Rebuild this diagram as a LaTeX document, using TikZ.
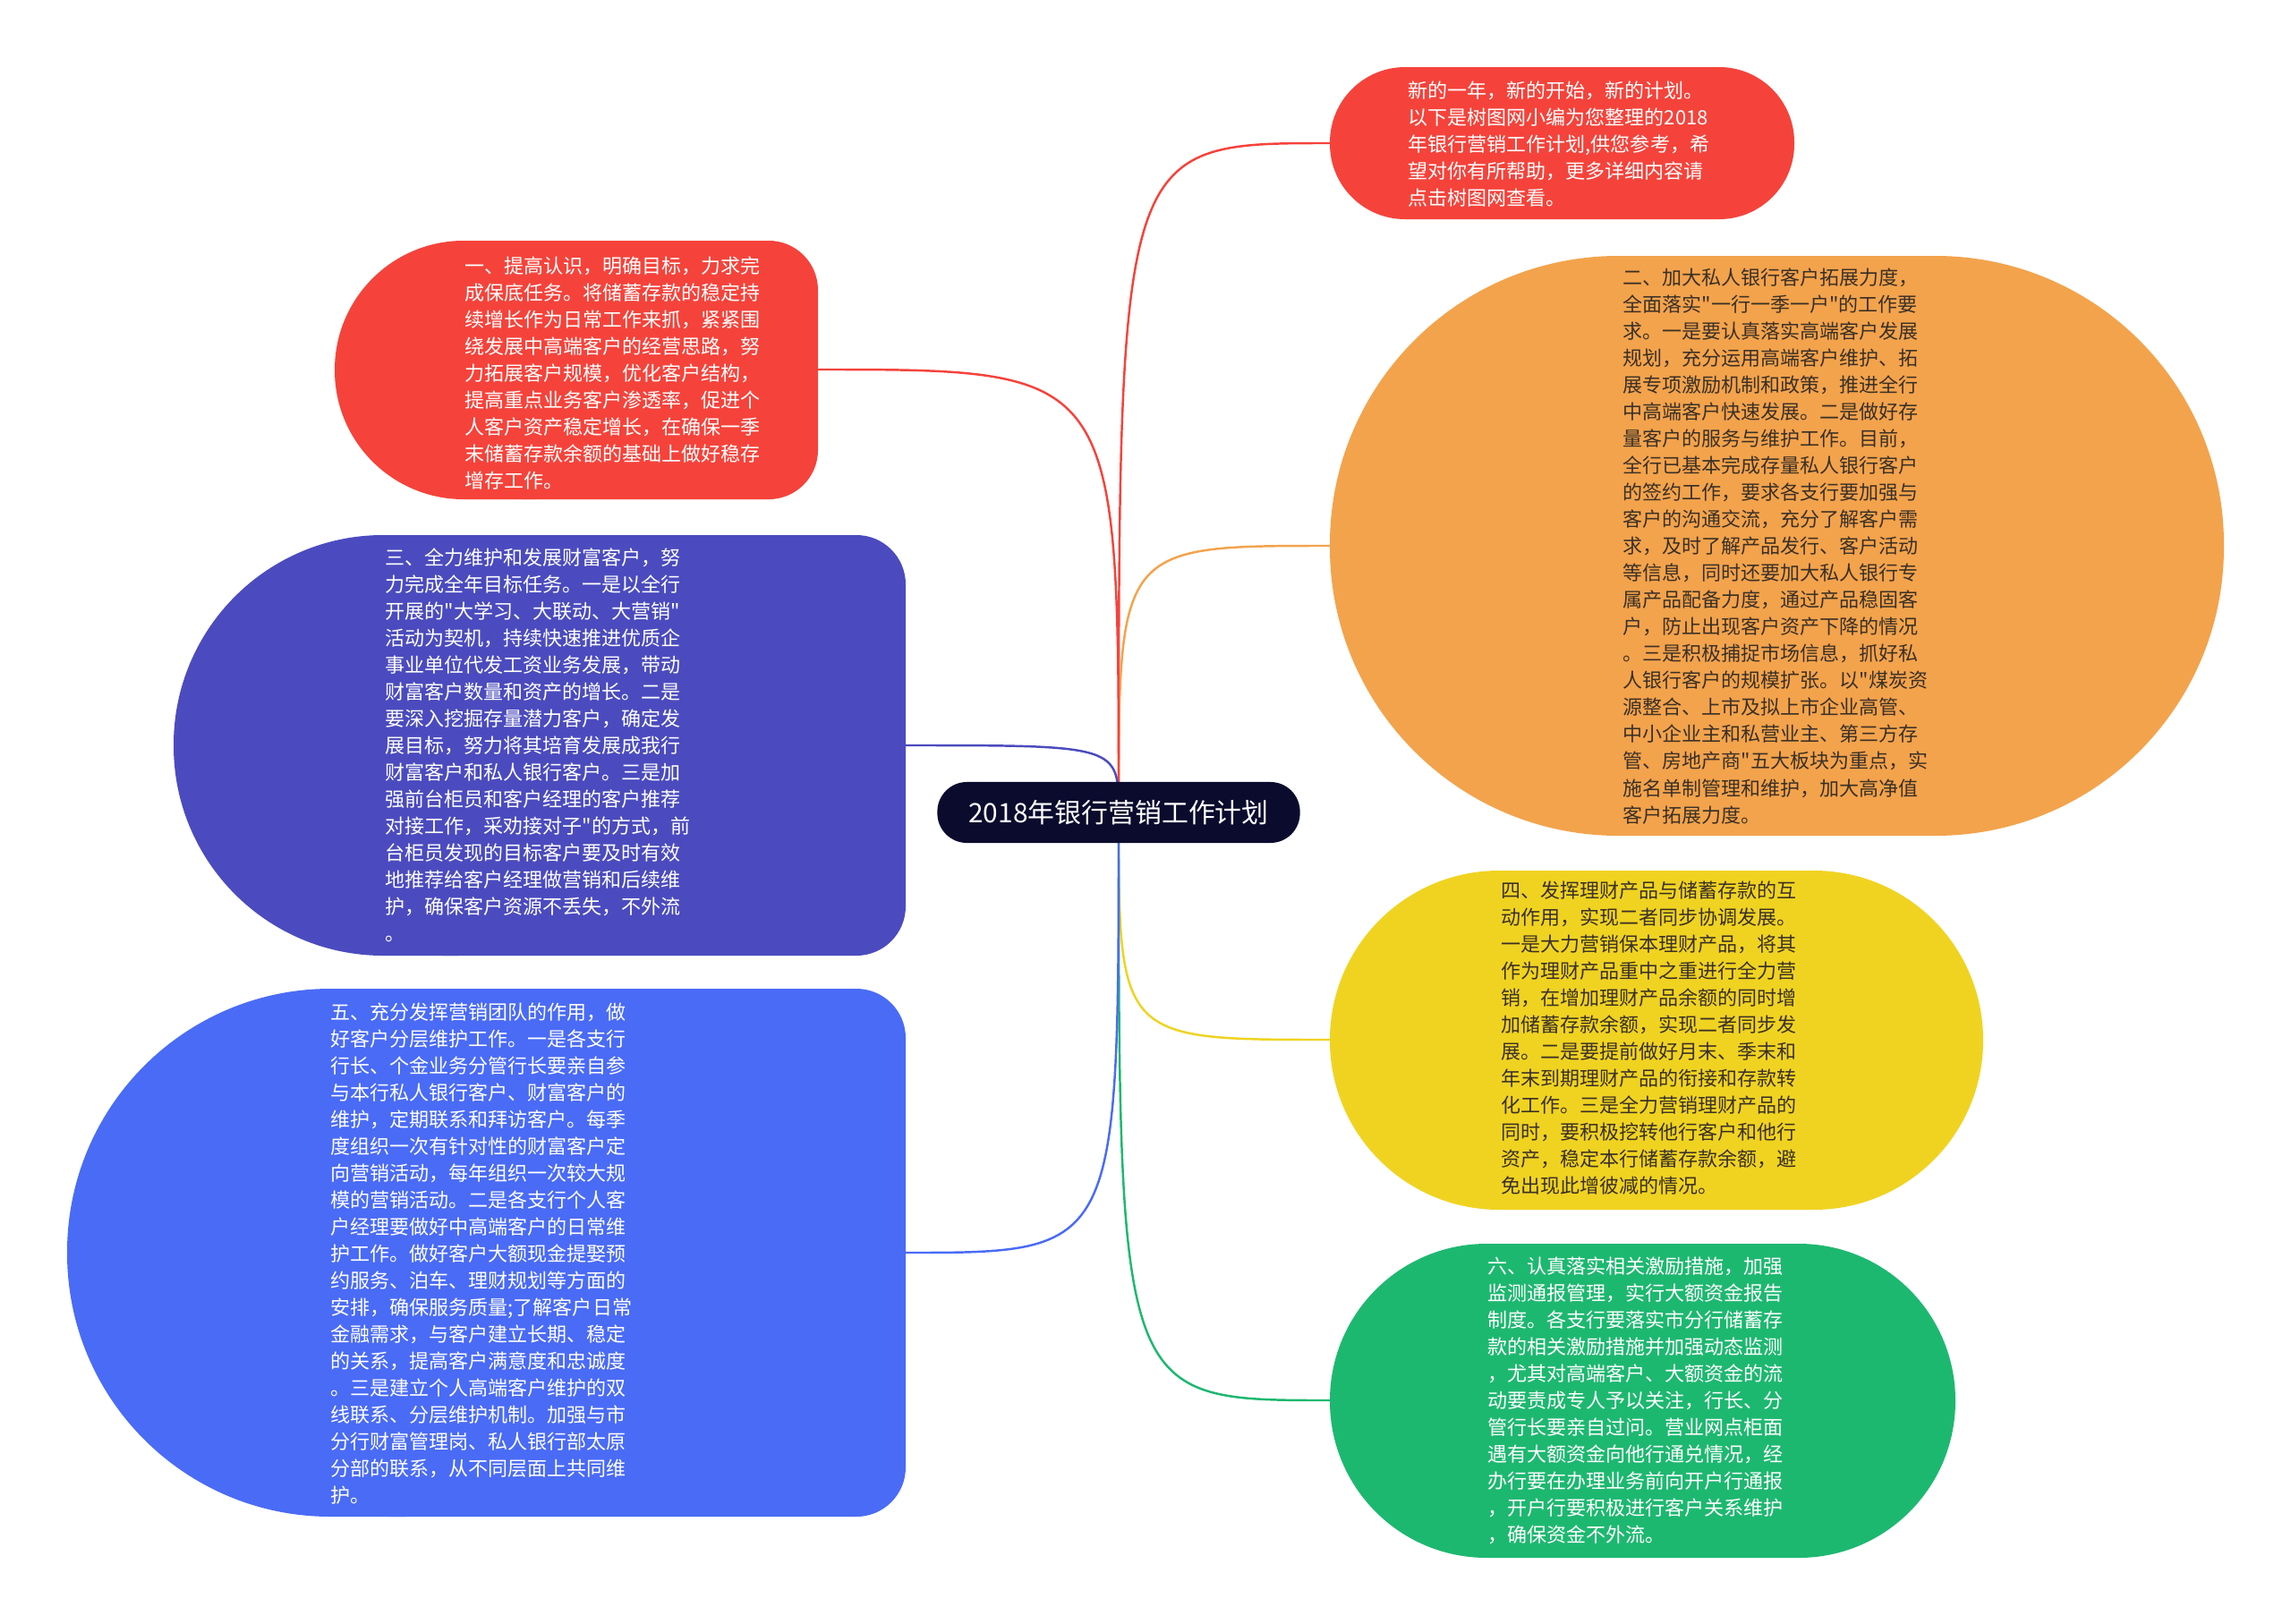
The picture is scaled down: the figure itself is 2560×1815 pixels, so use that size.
\documentclass[tikz,border=0pt]{standalone}
\usepackage{fontspec}
\newfontfamily\cjkfont{Noto Sans CJK SC}
\usepackage{xcolor}
\usetikzlibrary{backgrounds}
\definecolor{planred}{HTML}{F5433B}
\definecolor{planorange}{HTML}{F3A34C}
\definecolor{planindigo}{HTML}{4B4BBF}
\definecolor{planyellow}{HTML}{F0D321}
\definecolor{planblue}{HTML}{4A6BF6}
\definecolor{plangreen}{HTML}{1DB870}
\definecolor{rootnavy}{HTML}{0B0B2E}
\definecolor{darktext}{HTML}{3A3026}

\begin{document}
\begin{tikzpicture}[x=0.01cm,y=-0.01cm,
  leaftext/.style={anchor=north west,inner sep=0pt,align=left,font=\cjkfont\fontsize{6.26}{8.54}\selectfont},
  rootbox/.style={fill=rootnavy,text=white,rounded corners=3.3mm,minimum width=40.5mm,minimum height=6.8mm,inner sep=0pt,font=\cjkfont\fontsize{8.5}{10}\selectfont},
  link/.style={line width=0.7pt}]
  \useasboundingbox (0,0) rectangle (2560,1815);

  \fill[planred,rounded corners=8.4mm] (1486,75) rectangle (2005,245);
  \fill[planorange,rounded corners=32.2mm] (1486,286) rectangle (2485,934);
  \fill[planyellow,rounded corners=18.9mm] (1486,973) rectangle (2216,1352);
  \fill[plangreen,rounded corners=17.5mm] (1486,1390) rectangle (2185,1741);
  \fill[planred,rounded corners=14.4mm] (374,269) rectangle (742,558);
  \fill[planred,rounded corners=5.5mm] (528,269) rectangle (914,558);
  \fill[planindigo,rounded corners=23.4mm] (194,598) rectangle (744,1068);
  \fill[planindigo,rounded corners=5.5mm] (439,598) rectangle (1012,1068);
  \fill[planblue,rounded corners=29.4mm] (75,1105) rectangle (745,1695);
  \fill[planblue,rounded corners=5.5mm] (380,1105) rectangle (1012,1695);

  \node[leaftext,white] (intro) at (1573,90) {新的一年，新的开始，新的计划。\\以下是树图网小编为您整理的2018\\年银行营销工作计划,供您参考，希\\望对你有所帮助，更多详细内容请\\点击树图网查看。};
  \node[leaftext,white] (one) at (519,286) {一、提高认识，明确目标，力求完\\成保底任务。将储蓄存款的稳定持\\续增长作为日常工作来抓，紧紧围\\绕发展中高端客户的经营思路，努\\力拓展客户规模，优化客户结构，\\提高重点业务客户渗透率，促进个\\人客户资产稳定增长，在确保一季\\末储蓄存款余额的基础上做好稳存\\增存工作。};
  \node[leaftext,darktext] (two) at (1813,299) {二、加大私人银行客户拓展力度，\\全面落实"一行一季一户"的工作要\\求。一是要认真落实高端客户发展\\规划，充分运用高端客户维护、拓\\展专项激励机制和政策，推进全行\\中高端客户快速发展。二是做好存\\量客户的服务与维护工作。目前，\\全行已基本完成存量私人银行客户\\的签约工作，要求各支行要加强与\\客户的沟通交流，充分了解客户需\\求，及时了解产品发行、客户活动\\等信息，同时还要加大私人银行专\\属产品配备力度，通过产品稳固客\\户，防止出现客户资产下降的情况\\。三是积极捕捉市场信息，抓好私\\人银行客户的规模扩张。以"煤炭资\\源整合、上市及拟上市企业高管、\\中小企业主和私营业主、第三方存\\管、房地产商"五大板块为重点，实\\施名单制管理和维护，加大高净值\\客户拓展力度。};
  \node[leaftext,white] (three) at (430,612) {三、全力维护和发展财富客户，努\\力完成全年目标任务。一是以全行\\开展的"大学习、大联动、大营销"\\活动为契机，持续快速推进优质企\\事业单位代发工资业务发展，带动\\财富客户数量和资产的增长。二是\\要深入挖掘存量潜力客户，确定发\\展目标，努力将其培育发展成我行\\财富客户和私人银行客户。三是加\\强前台柜员和客户经理的客户推荐\\对接工作，采劝接对子"的方式，前\\台柜员发现的目标客户要及时有效\\地推荐给客户经理做营销和后续维\\护，确保客户资源不丢失，不外流\\。};
  \node[leaftext,darktext] (four) at (1677,984) {四、发挥理财产品与储蓄存款的互\\动作用，实现二者同步协调发展。\\一是大力营销保本理财产品，将其\\作为理财产品重中之重进行全力营\\销，在增加理财产品余额的同时增\\加储蓄存款余额，实现二者同步发\\展。二是要提前做好月末、季末和\\年末到期理财产品的衔接和存款转\\化工作。三是全力营销理财产品的\\同时，要积极挖转他行客户和他行\\资产，稳定本行储蓄存款余额，避\\免出现此增彼减的情况。};
  \node[leaftext,white] (five) at (369,1120) {五、充分发挥营销团队的作用，做\\好客户分层维护工作。一是各支行\\行长、个金业务分管行长要亲自参\\与本行私人银行客户、财富客户的\\维护，定期联系和拜访客户。每季\\度组织一次有针对性的财富客户定\\向营销活动，每年组织一次较大规\\模的营销活动。二是各支行个人客\\户经理要做好中高端客户的日常维\\护工作。做好客户大额现金提娶预\\约服务、泊车、理财规划等方面的\\安排，确保服务质量;了解客户日常\\金融需求，与客户建立长期、稳定\\的关系，提高客户满意度和忠诚度\\。三是建立个人高端客户维护的双\\线联系、分层维护机制。加强与市\\分行财富管理岗、私人银行部太原\\分部的联系，从不同层面上共同维\\护。};
  \node[leaftext,white] (six) at (1662,1404) {六、认真落实相关激励措施，加强\\监测通报管理，实行大额资金报告\\制度。各支行要落实市分行储蓄存\\款的相关激励措施并加强动态监测\\，尤其对高端客户、大额资金的流\\动要责成专人予以关注，行长、分\\管行长要亲自过问。营业网点柜面\\遇有大额资金向他行通兑情况，经\\办行要在办理业务前向开户行通报\\，开户行要积极进行客户关系维护\\，确保资金不外流。};

  \node[rootbox] (root) at (1250,908) {2018年银行营销工作计划};

  \coordinate (introin) at (1486,160);
  \coordinate (twoin) at (1486,610);
  \coordinate (fourin) at (1486,1162);
  \coordinate (sixin) at (1486,1565);
  \coordinate (onein) at (914,413);
  \coordinate (threein) at (1012,833);
  \coordinate (fivein) at (1012,1400);

  \begin{scope}[on background layer]
  \draw[link,planred] (root.center) .. controls (root.center |- introin) .. (introin);
  \draw[link,planorange] (root.center) .. controls (root.center |- twoin) .. (twoin);
  \draw[link,planyellow] (root.center) .. controls (root.center |- fourin) .. (fourin);
  \draw[link,plangreen] (root.center) .. controls (root.center |- sixin) .. (sixin);
  \draw[link,planred] (root.center) .. controls (root.center |- onein) .. (onein);
  \draw[link,planindigo] (root.center) .. controls (root.center |- threein) .. (threein);
  \draw[link,planblue] (root.center) .. controls (root.center |- fivein) .. (fivein);
  \end{scope}
\end{tikzpicture}
\end{document}
